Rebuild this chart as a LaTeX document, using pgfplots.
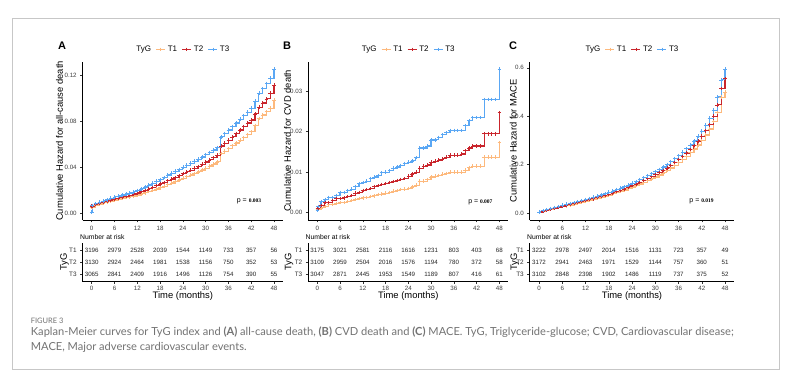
\documentclass[border=0pt]{standalone}
\usepackage{fontspec}
\setmainfont{Liberation Sans}
\newfontfamily\capfont{Lato}
\newfontfamily\pfont{Liberation Serif}
\usepackage{pgfplots}
\usepackage{pgfplotstable}
\pgfplotsset{compat=1.18}
\definecolor{cT1}{HTML}{FDB97D}
\definecolor{cT2}{HTML}{C9252C}
\definecolor{cT3}{HTML}{5AA7F4}
\definecolor{capgray}{HTML}{737373}

\pgfplotstableread{
t a b c
0 0.0050 0.0060 0.0010
0.15 0.0050 0.0060 0.0065
1 0.0070 0.0075 0.0085
2 0.0080 0.0085 0.0095
3 0.0090 0.0095 0.0107
4 0.0098 0.0105 0.0117
5 0.0105 0.0115 0.0130
6 0.0115 0.0125 0.0142
7 0.0122 0.0132 0.0150
8 0.0128 0.0140 0.0158
9 0.0135 0.0148 0.0166
10 0.0142 0.0157 0.0175
11 0.0150 0.0166 0.0186
12 0.0158 0.0176 0.0198
13 0.0168 0.0188 0.0212
14 0.0178 0.0200 0.0228
15 0.0188 0.0212 0.0245
16 0.0198 0.0225 0.0260
17 0.0210 0.0240 0.0278
18 0.0222 0.0255 0.0292
19 0.0235 0.0268 0.0310
20 0.0248 0.0282 0.0332
21 0.0262 0.0297 0.0348
22 0.0276 0.0312 0.0365
23 0.0290 0.0328 0.0382
24 0.0305 0.0345 0.0400
25 0.0318 0.0360 0.0418
26 0.0332 0.0375 0.0435
27 0.0346 0.0392 0.0452
28 0.0360 0.0408 0.0470
29 0.0376 0.0426 0.0490
30 0.0392 0.0445 0.0510
31 0.0410 0.0465 0.0530
32 0.0428 0.0485 0.0550
33 0.0447 0.0505 0.0572
34 0.0520 0.0585 0.0665
35 0.0540 0.0610 0.0695
36 0.0563 0.0636 0.0724
37 0.0588 0.0665 0.0755
38 0.0612 0.0695 0.0785
39 0.0636 0.0724 0.0818
40 0.0660 0.0755 0.0850
41 0.0685 0.0785 0.0880
42 0.0710 0.0812 0.0914
43 0.0765 0.0865 0.0975
44 0.0826 0.0923 0.1045
45 0.0855 0.0960 0.1085
46 0.0885 0.0996 0.1130
47 0.0914 0.1045 0.1177
48 0.0987 0.1118 0.1255
}\dataA

\pgfplotstableread{
t a b c
0 0.0008 0.0010 0.0005
0.15 0.0008 0.0010 0.0015
1 0.0012 0.0018 0.0028
2 0.0015 0.0025 0.0033
3 0.0020 0.0025 0.0038
4 0.0020 0.0030 0.0038
5 0.0023 0.0035 0.0043
6 0.0025 0.0035 0.0050
7 0.0025 0.0037 0.0050
8 0.0028 0.0040 0.0055
9 0.0030 0.0043 0.0058
10 0.0033 0.0048 0.0065
11 0.0035 0.0050 0.0072
12 0.0037 0.0055 0.0075
13 0.0038 0.0057 0.0078
14 0.0040 0.0060 0.0085
15 0.0042 0.0065 0.0088
16 0.0045 0.0067 0.0092
17 0.0046 0.0070 0.0099
18 0.0048 0.0072 0.0100
19 0.0050 0.0075 0.0104
20 0.0053 0.0077 0.0110
21 0.0055 0.0080 0.0113
22 0.0057 0.0082 0.0117
23 0.0058 0.0085 0.0122
24 0.0060 0.0090 0.0125
25 0.0064 0.0096 0.0128
26 0.0068 0.0100 0.0136
27 0.0078 0.0110 0.0160
28 0.0078 0.0115 0.0160
29 0.0082 0.0118 0.0165
30 0.0088 0.0125 0.0180
31 0.0090 0.0127 0.0180
32 0.0092 0.0130 0.0186
33 0.0095 0.0133 0.0193
34 0.0097 0.0137 0.0198
35 0.0100 0.0142 0.0203
36 0.0100 0.0142 0.0203
37 0.0100 0.0142 0.0203
38 0.0100 0.0145 0.0203
39 0.0105 0.0153 0.0215
40 0.0112 0.0160 0.0228
41 0.0115 0.0165 0.0235
42 0.0115 0.0165 0.0235
43 0.0115 0.0165 0.0235
44 0.0137 0.0195 0.0280
45 0.0137 0.0195 0.0280
46 0.0137 0.0195 0.0280
47 0.0137 0.0195 0.0280
48 0.0173 0.0247 0.0355
}\dataB

\pgfplotstableread{
t a b c
0 0.004 0.004 0.005
1 0.008 0.009 0.010
2 0.012 0.013 0.014
3 0.016 0.017 0.019
4 0.019 0.020 0.023
5 0.023 0.024 0.027
6 0.027 0.029 0.032
7 0.030 0.032 0.036
8 0.033 0.035 0.039
9 0.036 0.039 0.043
10 0.040 0.043 0.047
11 0.044 0.047 0.051
12 0.048 0.051 0.056
13 0.052 0.055 0.060
14 0.056 0.059 0.065
15 0.060 0.064 0.070
16 0.064 0.068 0.075
17 0.069 0.073 0.080
18 0.074 0.078 0.086
19 0.079 0.083 0.091
20 0.084 0.089 0.097
21 0.089 0.094 0.103
22 0.095 0.100 0.109
23 0.101 0.107 0.116
24 0.107 0.113 0.123
25 0.113 0.120 0.130
26 0.120 0.127 0.138
27 0.127 0.134 0.146
28 0.134 0.142 0.154
29 0.141 0.150 0.162
30 0.149 0.158 0.171
31 0.157 0.167 0.180
32 0.166 0.176 0.190
33 0.176 0.186 0.201
34 0.186 0.197 0.212
35 0.197 0.209 0.224
36 0.209 0.221 0.237
37 0.221 0.234 0.251
38 0.235 0.248 0.266
39 0.249 0.263 0.281
40 0.264 0.279 0.298
41 0.281 0.297 0.317
42 0.300 0.317 0.338
43 0.322 0.340 0.363
44 0.347 0.366 0.392
45 0.378 0.400 0.425
46 0.415 0.447 0.480
47 0.478 0.515 0.550
48 0.500 0.555 0.595
}\dataC

\pgfplotstableread{
x y n
0 1 3196
6 1 2979
12 1 2528
18 1 2039
24 1 1544
30 1 1149
36 1 733
42 1 357
48 1 56
0 2 3130
6 2 2924
12 2 2464
18 2 1981
24 2 1538
30 2 1156
36 2 750
42 2 352
48 2 53
0 3 3065
6 3 2841
12 3 2409
18 3 1916
24 3 1496
30 3 1126
36 3 754
42 3 390
48 3 55
}\riskA

\pgfplotstableread{
x y n
0 1 3175
6 1 3021
12 1 2581
18 1 2116
24 1 1616
30 1 1231
36 1 803
42 1 403
48 1 68
0 2 3109
6 2 2959
12 2 2504
18 2 2016
24 2 1576
30 2 1194
36 2 780
42 2 372
48 2 58
0 3 3047
6 3 2871
12 3 2445
18 3 1953
24 3 1549
30 3 1189
36 3 807
42 3 416
48 3 61
}\riskB

\pgfplotstableread{
x y n
0 1 3222
6 1 2978
12 1 2497
18 1 2014
24 1 1516
30 1 1131
36 1 723
42 1 357
48 1 49
0 2 3172
6 2 2941
12 2 2463
18 2 1971
24 2 1529
30 2 1144
36 2 757
42 2 360
48 2 51
0 3 3102
6 3 2848
12 3 2398
18 3 1902
24 3 1486
30 3 1119
36 3 737
42 3 375
48 3 52
}\riskC

\pgfplotsset{
  baseaxis/.style={
    scale only axis,
    axis lines=left,
    axis line style={-, line width=0.6pt, black},
    tick align=outside,
    major tick length=2.4pt,
    tick style={line width=0.5pt, black!80},
    xmin=-2.4, xmax=50.4,
    xtick={0,6,...,48},
    scaled y ticks=false,
    /pgf/number format/assume math mode=true,
    tick label style={font=\fontsize{6.2}{7}\selectfont, text=black!75},
    label style={font=\fontsize{9.4}{10}\selectfont},
  },
  kmaxis/.style={
    baseaxis,
    height=158.3pt,
    xticklabel style={yshift=-0.5pt},
    yticklabel style={/pgf/number format/fixed, /pgf/number format/fixed zerofill, /pgf/number format/precision=#1},
    legend style={at={(0.5,1)}, anchor=south, yshift=6.5pt, legend columns=-1,
      draw=none, fill=none, font=\fontsize{8}{9}\selectfont, inner sep=0pt,
      /tikz/every even column/.append style={column sep=2.5pt}},
    legend image code/.code={\draw[mark repeat=2,mark phase=2,##1] plot coordinates {(0pt,0pt) (4.5pt,0pt) (9pt,0pt)};},
  },
  kmplot/.style={const plot, line width=1.2pt, mark=+, mark size=1.8pt, mark options={line width=0.55pt}},
  riskaxis/.style={
    baseaxis,
    height=38.5pt,
    ymin=0.4, ymax=3.6, y dir=reverse,
    ytick={1,2,3}, yticklabels={T1,T2,T3},
    yticklabel style={font=\fontsize{6.4}{7}\selectfont, text=black!80},
    xticklabel style={yshift=0.8pt},
    xlabel={Time (months)},
    ylabel={TyG},
    xlabel style={at={(axis description cs:0.5,0)}, anchor=north, yshift=-10.3pt, inner sep=0pt},
  },
  riskplot/.style={draw=none, mark=none, nodes near coords, point meta=explicit symbolic,
    nodes near coords style={anchor=center, font=\fontsize{6.2}{7}\selectfont, text=black!85}},
}

\begin{document}
\begin{tikzpicture}
\useasboundingbox (0,0) rectangle (798pt,-381pt);
\fill[white] (0,0) rectangle (798pt,-381pt);
\draw[black!22, line width=0.8pt] (12.7pt,-18.3pt) rectangle (779.3pt,-369pt);

% ---------- Panel A ----------
\begin{axis}[kmaxis=2, at={(82.6pt,-220pt)}, anchor=south west, width=200.5pt,
  ymin=-0.006, ymax=0.132, ytick={0,0.04,0.08,0.12},
  ylabel={Cumulative Hazard for all-cause death},
  ylabel style={at={(axis description cs:-0.115,0.5)}, anchor=center}]
\addlegendimage{empty legend}\addlegendentry{TyG}
\addplot[kmplot, cT1] table[x=t,y=a] {\dataA};\addlegendentry{T1}
\addplot[kmplot, cT2] table[x=t,y=b] {\dataA};\addlegendentry{T2}
\addplot[kmplot, cT3] table[x=t,y=c] {\dataA};\addlegendentry{T3}
\node[anchor=center] at (rel axis cs:0.83,0.115) {\fontsize{7}{8}\selectfont p = {\pfont\bfseries\fontsize{5.5}{6}\selectfont 0.003}};
\end{axis}
\begin{axis}[riskaxis, at={(82.6pt,-281.5pt)}, anchor=south west, width=200.5pt,
  ylabel style={at={(axis description cs:-0.09,0.5)}, anchor=center}]
\addplot[riskplot] table[x=x,y=y,meta=n] {\riskA};
\end{axis}

% ---------- Panel B ----------
\begin{axis}[kmaxis=2, at={(308.2pt,-220pt)}, anchor=south west, width=200.2pt,
  ymin=-0.0018, ymax=0.0373, ytick={0,0.01,0.02,0.03},
  ylabel={Cumulative Hazard for CVD death},
  ylabel style={at={(axis description cs:-0.103,0.5)}, anchor=center}]
\addlegendimage{empty legend}\addlegendentry{TyG}
\addplot[kmplot, cT1] table[x=t,y=a] {\dataB};\addlegendentry{T1}
\addplot[kmplot, cT2] table[x=t,y=b] {\dataB};\addlegendentry{T2}
\addplot[kmplot, cT3] table[x=t,y=c] {\dataB};\addlegendentry{T3}
\node[anchor=center] at (rel axis cs:0.86,0.11) {\fontsize{7}{8}\selectfont p = {\pfont\bfseries\fontsize{5.5}{6}\selectfont 0.007}};
\end{axis}
\begin{axis}[riskaxis, at={(308.2pt,-281.5pt)}, anchor=south west, width=200.2pt,
  ylabel style={at={(axis description cs:-0.096,0.5)}, anchor=center}]
\addplot[riskplot] table[x=x,y=y,meta=n] {\riskB};
\end{axis}

% ---------- Panel C ----------
\begin{axis}[kmaxis=1, at={(529.7pt,-220pt)}, anchor=south west, width=204.6pt,
  ymin=-0.029, ymax=0.625, ytick={0,0.2,0.4,0.6},
  ylabel={Cumulative Hazard for MACE},
  ylabel style={at={(axis description cs:-0.08,0.5)}, anchor=center}]
\addlegendimage{empty legend}\addlegendentry{TyG}
\addplot[kmplot, cT1] table[x=t,y=a] {\dataC};\addlegendentry{T1}
\addplot[kmplot, cT2] table[x=t,y=b] {\dataC};\addlegendentry{T2}
\addplot[kmplot, cT3] table[x=t,y=c] {\dataC};\addlegendentry{T3}
\node[anchor=center] at (rel axis cs:0.84,0.12) {\fontsize{7}{8}\selectfont p = {\pfont\bfseries\fontsize{5.5}{6}\selectfont 0.019}};
\end{axis}
\begin{axis}[riskaxis, at={(529.7pt,-281.5pt)}, anchor=south west, width=204.6pt,
  ylabel style={at={(axis description cs:-0.073,0.5)}, anchor=center}]
\addplot[riskplot] table[x=x,y=y,meta=n] {\riskC};
\end{axis}

% panel letters and "Number at risk"
\node[font=\bfseries\fontsize{11}{12}\selectfont] at (62pt,-46pt) {A};
\node[font=\bfseries\fontsize{11}{12}\selectfont] at (287pt,-46pt) {B};
\node[font=\bfseries\fontsize{11}{12}\selectfont] at (513pt,-46pt) {C};
\node[anchor=west, font=\fontsize{6.8}{7}\selectfont, inner sep=0pt] at (80pt,-237pt) {Number at risk};
\node[anchor=west, font=\fontsize{6.8}{7}\selectfont, inner sep=0pt] at (305.5pt,-237pt) {Number at risk};
\node[anchor=west, font=\fontsize{6.8}{7}\selectfont, inner sep=0pt] at (527pt,-237pt) {Number at risk};

% caption
\node[anchor=base west, inner sep=0pt, font=\capfont\fontsize{7.5}{8}\selectfont, text=capgray] at (30.7pt,-323pt) {FIGURE 3};
\node[anchor=base west, inner sep=0pt, font=\capfont\fontsize{11.1}{12}\selectfont, text=capgray] at (30.7pt,-335.5pt)
  {Kaplan-Meier curves for TyG index and \textbf{(A)} all-cause death, \textbf{(B)} CVD death and \textbf{(C)} MACE. TyG, Triglyceride-glucose; CVD, Cardiovascular disease;};
\node[anchor=base west, inner sep=0pt, font=\capfont\fontsize{11.1}{12}\selectfont, text=capgray] at (30.7pt,-350.5pt)
  {MACE, Major adverse cardiovascular events.};
\end{tikzpicture}
\end{document}
